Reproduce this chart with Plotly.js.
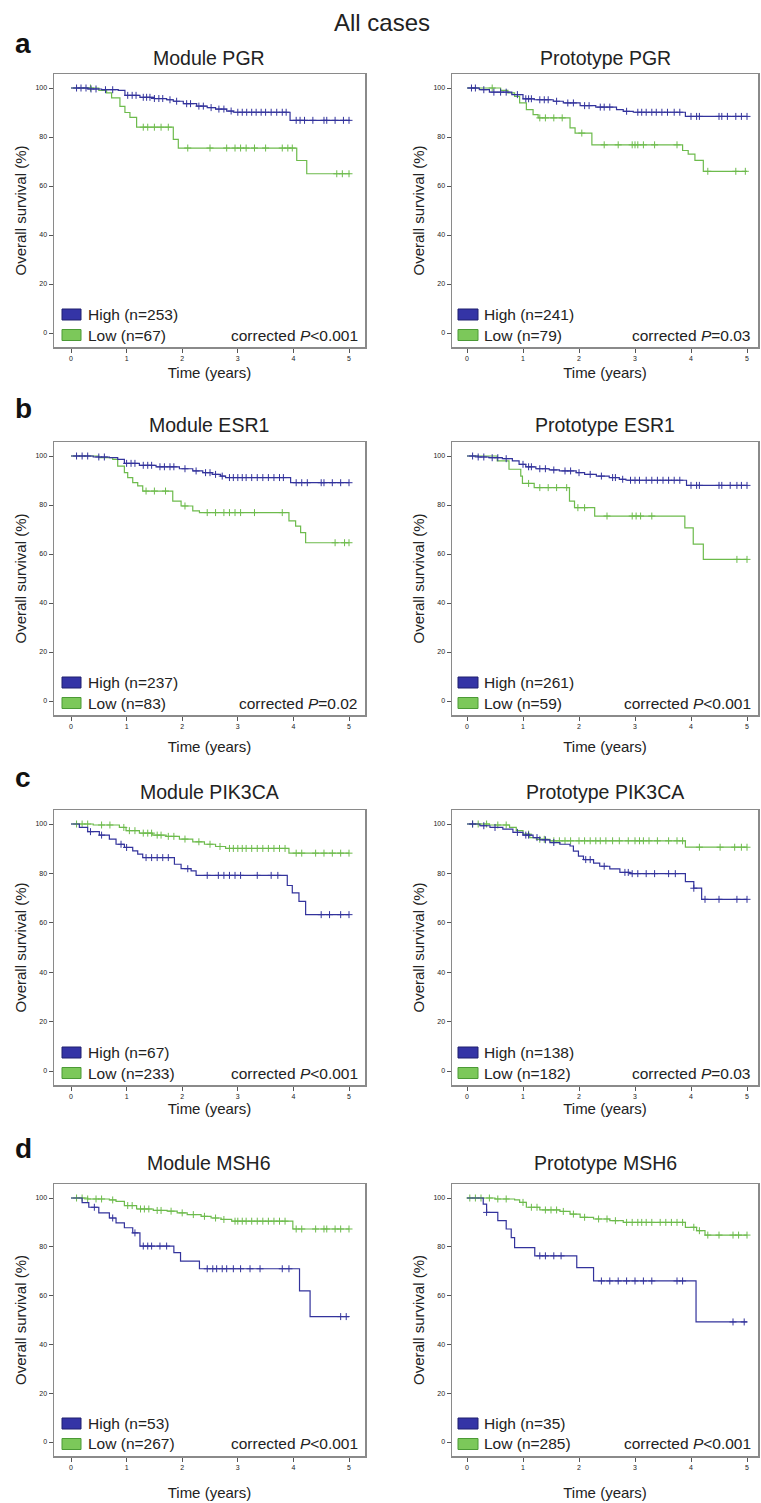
<!DOCTYPE html>
<html><head><meta charset="utf-8">
<script src="https://cdn.plot.ly/plotly-3.0.1.min.js"></script>
<style>html,body{margin:0;padding:0;background:#fff}</style>
</head><body><div id="chart" style="width:761px;height:1503px"></div>
<script>
// ---------- DATA ----------
const xTicks = [0,1,2,3,4,5];
const yTicks = [0,20,40,60,80,100];

// a) Module PGR
const pgrMHighT = [0,0.3,0.55,0.85,0.97,1.24,1.5,1.72,1.84,2.02,2.26,2.45,2.6,2.8,2.92,3.94,5.02];
const pgrMHighS = [100,99.6,99.3,99.0,97.0,96.2,95.7,95.2,94.6,93.6,92.6,92.0,91.4,90.6,90.1,86.8,86.8];
const pgrMHighC = [0.1,0.18,0.27,0.36,0.45,0.62,0.75,1.02,1.1,1.17,1.3,1.36,1.42,1.5,1.58,1.65,1.78,1.9,2.08,2.15,2.3,2.38,2.52,2.66,2.75,2.88,3.0,3.08,3.16,3.25,3.33,3.42,3.5,3.6,3.7,3.8,3.87,4.05,4.12,4.2,4.35,4.55,4.6,4.75,4.9,5.0];
const pgrMLowT = [0,0.5,0.64,0.73,0.88,0.97,1.06,1.18,1.84,1.93,4.06,4.24,5.02];
const pgrMLowS = [100,99.0,98.0,96.0,92.5,90.0,88.0,84.0,79.0,75.5,70.4,65.0,65.0];
const pgrMLowC = [0.35,1.3,1.38,1.5,1.62,1.75,2.1,2.5,2.8,2.95,3.05,3.15,3.3,3.5,3.8,3.9,3.98,4.78,4.88,5.0];
// a) Prototype PGR
const pgrPHighT = [0,0.22,0.4,0.8,1.0,1.2,1.54,1.72,2.02,2.3,2.67,2.79,2.97,3.9,5.0];
const pgrPHighS = [100,99.3,98.3,97.3,95.6,95.2,94.6,93.9,92.8,92.2,91.2,90.5,90.1,88.4,88.4];
const pgrPHighC = [0.08,0.15,0.3,0.48,0.6,0.7,0.9,1.05,1.1,1.15,1.3,1.38,1.45,1.6,1.8,1.9,2.1,2.18,2.38,2.45,2.55,2.85,3.05,3.12,3.2,3.3,3.38,3.48,3.58,3.7,3.8,4.0,4.1,4.15,4.5,4.55,4.65,4.8,4.9,5.0];
const pgrPLowT = [0,0.6,0.73,0.85,0.94,1.06,1.18,1.27,1.84,1.93,2.23,3.85,3.95,4.07,4.22,5.0];
const pgrPLowS = [100,99.0,98.0,96.6,93.9,91.2,89.1,87.8,83.7,81.6,76.8,74.5,73.0,70.5,66.0,66.0];
const pgrPLowC = [0.45,1.3,1.4,1.55,1.7,2.05,2.45,2.7,2.95,3.0,3.05,3.15,3.35,3.75,4.3,4.8,4.97];

// b) Module ESR1
const esrMHighT = [0,0.4,0.69,0.84,0.96,1.23,1.53,1.95,2.19,2.37,2.54,2.69,2.78,3.95,5.0];
const esrMHighS = [100,99.6,99.3,98.6,97.0,96.2,95.6,94.8,93.9,93.2,92.5,91.8,91.2,89.1,89.1];
const esrMHighC = [0.1,0.2,0.3,0.5,0.6,1.0,1.08,1.15,1.3,1.38,1.45,1.6,1.68,1.78,1.85,2.05,2.25,2.42,2.5,2.6,2.72,2.85,2.92,3.0,3.08,3.15,3.25,3.35,3.45,3.55,3.65,3.75,3.82,4.05,4.15,4.25,4.5,4.55,4.7,4.85,5.0];
const esrMLowT = [0,0.5,0.75,0.84,0.96,1.02,1.11,1.2,1.29,1.83,1.98,2.19,2.31,3.92,4.04,4.13,4.22,5.0];
const esrMLowS = [100,99.3,98.6,95.9,93.2,91.2,89.1,87.8,85.7,81.6,79.6,77.6,76.9,73.5,71.4,68.7,64.6,64.6];
const esrMLowC = [1.35,1.5,1.7,2.05,2.45,2.6,2.75,2.85,2.95,3.05,3.3,3.8,4.75,4.92,5.0];
// b) Prototype ESR1
const esrPHighT = [0,0.2,0.39,0.63,0.81,0.93,1.05,1.23,1.47,1.65,1.95,2.1,2.31,2.54,2.72,2.84,3.92,5.0];
const esrPHighS = [100,99.6,99.3,98.9,98.0,96.6,95.6,94.8,94.3,93.9,93.2,92.5,91.8,91.2,90.5,90.1,88.0,88.0];
const esrPHighC = [0.1,0.2,0.3,0.45,0.55,0.7,1.0,1.1,1.15,1.3,1.4,1.55,1.75,1.85,2.0,2.2,2.4,2.6,2.65,2.78,2.92,3.0,3.08,3.2,3.3,3.4,3.5,3.6,3.7,3.8,4.0,4.1,4.15,4.5,4.55,4.7,4.82,4.9,5.0];
const esrPLowT = [0,0.54,0.75,0.96,0.99,1.2,1.83,1.92,2.28,3.89,4.04,4.22,5.0];
const esrPLowS = [100,98.0,94.6,91.8,88.8,87.1,81.6,78.9,75.5,70.7,64.0,57.8,57.8];
const esrPLowC = [1.1,1.3,1.45,1.6,1.78,1.98,2.1,2.5,2.95,3.02,3.1,3.3,4.82,5.0];

// c) Module PIK3CA
const pikMHighT = [0,0.15,0.3,0.51,0.69,0.81,0.96,1.11,1.2,1.29,1.86,1.98,2.16,2.25,3.89,3.98,4.1,4.22,5.0];
const pikMHighS = [100,98.6,96.9,95.5,93.9,91.8,90.5,89.1,87.8,86.4,83.7,81.9,81.0,79.2,75.1,72.1,68.7,63.3,63.3];
const pikMHighC = [0.35,0.55,0.9,1.0,1.35,1.45,1.55,1.65,1.75,2.1,2.45,2.65,2.75,2.85,2.95,3.05,3.35,3.6,3.72,4.5,4.65,4.85,5.0];
const pikMLowT = [0,0.4,0.87,0.99,1.23,1.47,1.71,1.95,2.19,2.4,2.6,2.78,3.92,5.0];
const pikMLowS = [100,99.6,98.6,97.3,96.3,95.5,95.0,93.9,92.8,91.8,90.9,90.1,88.2,88.2];
const pikMLowC = [0.1,0.2,0.3,0.55,0.7,0.95,1.05,1.15,1.3,1.38,1.45,1.55,1.62,1.75,1.85,2.05,2.3,2.5,2.68,2.85,2.92,3.0,3.08,3.15,3.25,3.35,3.45,3.55,3.65,3.75,3.85,4.05,4.15,4.4,4.55,4.7,4.85,5.0];
// c) Prototype PIK3CA
const pikPHighT = [0,0.23,0.41,0.64,0.82,1.0,1.18,1.3,1.48,1.66,1.84,1.9,1.99,2.08,2.26,2.37,2.55,2.73,2.91,3.9,4.05,4.19,5.0];
const pikPHighS = [100,99.3,98.6,97.9,96.6,95.5,94.5,93.6,92.5,91.8,91.1,89.0,87.0,85.6,84.2,82.9,81.8,80.4,79.9,76.7,74.0,69.5,69.5];
const pikPHighC = [0.1,0.3,0.5,0.9,1.05,1.1,1.25,1.4,1.55,2.12,2.2,2.45,2.82,2.88,2.95,3.05,3.2,3.35,3.6,3.72,4.05,4.25,4.5,4.82,5.0];
const pikPLowT = [0,0.4,0.76,0.88,1.0,1.12,1.24,1.48,3.9,5.0];
const pikPLowS = [100,99.6,98.6,97.3,95.9,94.5,93.8,93.2,90.6,90.6];
const pikPLowC = [0.1,0.2,0.35,0.55,0.7,1.1,1.3,1.38,1.55,1.65,1.75,1.85,2.0,2.1,2.2,2.3,2.38,2.48,2.6,2.72,2.88,3.0,3.08,3.15,3.25,3.4,3.6,3.75,3.85,4.15,4.52,4.78,4.9,5.0];

// d) Module MSH6
const mshMHighT = [0,0.2,0.32,0.5,0.69,0.81,0.96,1.11,1.24,1.85,1.97,2.31,4.11,4.3,5.0];
const mshMHighS = [100,98.1,96.2,93.9,91.8,89.8,87.8,85.7,80.3,77.6,74.1,71.0,61.9,51.4,51.4];
const mshMHighC = [0.42,0.75,1.15,1.3,1.38,1.45,1.6,1.72,2.45,2.55,2.62,2.72,2.8,2.92,3.05,3.22,3.4,3.8,3.92,4.85,4.95];
const mshMLowT = [0,0.3,0.69,0.81,0.96,1.18,1.48,1.73,1.91,2.09,2.34,2.52,2.7,2.89,3.99,5.0];
const mshMLowS = [100,99.6,99.2,98.6,96.9,95.5,94.9,94.6,93.9,93.2,92.5,91.8,91.2,90.5,87.3,87.3];
const mshMLowC = [0.1,0.2,0.3,0.45,0.55,0.75,1.02,1.1,1.25,1.32,1.4,1.55,1.62,1.8,2.0,2.2,2.4,2.6,2.75,2.95,3.0,3.08,3.15,3.25,3.35,3.45,3.55,3.65,3.75,3.85,4.05,4.15,4.4,4.55,4.6,4.75,4.85,5.0];
// d) Prototype MSH6
const mshPHighT = [0,0.29,0.35,0.55,0.7,0.79,0.85,1.21,1.96,2.26,4.09,5.0];
const mshPHighS = [100,97.5,94.1,90.7,87.3,83.8,79.7,76.3,71.5,66.0,49.2,49.2];
const mshPHighC = [0.35,1.3,1.4,1.55,1.68,2.4,2.55,2.7,2.85,3.0,3.15,3.3,3.75,3.85,4.75,4.95];
const mshPLowT = [0,0.5,0.85,0.94,1.06,1.3,1.66,1.84,2.02,2.26,2.55,2.79,3.9,4.1,4.25,5.0];
const mshPLowS = [100,99.6,99.2,98.2,96.2,95.1,94.5,93.4,92.1,91.4,90.7,90.0,88.0,86.6,84.8,84.8];
const mshPLowC = [0.05,0.15,0.25,0.4,0.55,0.7,1.0,1.15,1.25,1.4,1.5,1.6,1.72,1.9,2.1,2.35,2.5,2.65,2.85,2.95,3.05,3.12,3.2,3.3,3.45,3.55,3.65,3.75,3.85,4.05,4.15,4.3,4.5,4.75,4.85,5.0];

const panelTitles = ["Module PGR","Prototype PGR","Module ESR1","Prototype ESR1","Module PIK3CA","Prototype PIK3CA","Module MSH6","Prototype MSH6"];
const highN = [253,241,237,261,67,138,53,35];
const lowN  = [67,79,83,59,233,182,267,285];
const pText = ["P&lt;0.001","P=0.03","P=0.02","P&lt;0.001","P&lt;0.001","P=0.03","P&lt;0.001","P&lt;0.001"];
const rowLetters = ["a","b","c","d"];

// ---------- LAYOUT GEOMETRY ----------
const W = 761, H = 1503;
const cols = [ {x0:54, x1:365, t0:71, t5:349, sw0:8, sw1:27, tx:32},
               {x0:452, x1:758, t0:467, t5:747, sw0:6, sw1:26, tx:30} ];
const rows = [ {top:74, bot:347, title:58, letter:44, xt:6},
               {top:442, bot:715, title:425, letter:408, xt:12},
               {top:810, bot:1085, title:792, letter:777, xt:2},
               {top:1184, bot:1456, title:1163, letter:1148, xt:17} ];

const curves = [
  [pgrMHighT,pgrMHighS,pgrMHighC,pgrMLowT,pgrMLowS,pgrMLowC],
  [pgrPHighT,pgrPHighS,pgrPHighC,pgrPLowT,pgrPLowS,pgrPLowC],
  [esrMHighT,esrMHighS,esrMHighC,esrMLowT,esrMLowS,esrMLowC],
  [esrPHighT,esrPHighS,esrPHighC,esrPLowT,esrPLowS,esrPLowC],
  [pikMHighT,pikMHighS,pikMHighC,pikMLowT,pikMLowS,pikMLowC],
  [pikPHighT,pikPHighS,pikPHighC,pikPLowT,pikPLowS,pikPLowC],
  [mshMHighT,mshMHighS,mshMHighC,mshMLowT,mshMLowS,mshMLowC],
  [mshPHighT,mshPHighS,mshPHighC,mshPLowT,mshPLowS,mshPLowC]
];

const BLUE = '#33339c', GREEN = '#6dbb4c';
const FONT = 'Liberation Sans, Arial, Helvetica, sans-serif';

function survAt(T,S,c){ let v=S[0]; for(let i=0;i<T.length;i++){ if(T[i]<=c) v=S[i]; } return v; }

const data = [], annotations = [], shapes = [];
const layout = { width:W, height:H, margin:{l:0,r:0,t:0,b:0}, paper_bgcolor:'#fff', plot_bgcolor:'#fff',
  showlegend:false, font:{family:FONT, color:'#222'} };

for(let p=0;p<8;p++){
  const r = rows[Math.floor(p/2)], c = cols[p%2];
  const n = p+1, xa = n===1?'x':'x'+n, ya = n===1?'y':'y'+n;
  const xk = n===1?'xaxis':'xaxis'+n, yk = n===1?'yaxis':'yaxis'+n;
  const ppy = (c.t5-c.t0)/5;
  const hpx = r.bot-r.top, ppu = (hpx-28)/100;
  layout[xk] = { domain:[c.x0/W, c.x1/W], anchor:ya, range:[-(c.t0-c.x0)/ppy, 5+(c.x1-c.t5)/ppy],
    tickvals:xTicks, ticks:'outside', ticklen:4, tickwidth:1, tickcolor:'#555',
    showline:true, mirror:true, linecolor:'#8a8a8a', linewidth:1.5, showgrid:false, zeroline:false,
    tickfont:{size:7, color:'#222', family:FONT},
    title:{text:'Time (years)', font:{size:15, color:'#222', family:FONT}, standoff:r.xt} };
  layout[yk] = { domain:[1-r.bot/H, 1-r.top/H], anchor:xa, range:[-14/ppu, 100+14/ppu],
    tickvals:yTicks, ticks:'outside', ticklen:4, tickwidth:1, tickcolor:'#555',
    showline:true, mirror:true, linecolor:'#8a8a8a', linewidth:1.5, showgrid:false, zeroline:false,
    tickfont:{size:7, color:'#222', family:FONT},
    title:{text:'Overall survival (%)', font:{size:15, color:'#222', family:FONT}, standoff:5} };

  const [hT,hS,hC,lT,lS,lC] = curves[p];
  const series = [[lT,lS,lC,GREEN],[hT,hS,hC,BLUE]];
  series.forEach(([T,S,C,col])=>{
    data.push({type:'scatter', mode:'lines', x:T, y:S, xaxis:xa, yaxis:ya, line:{shape:'hv', color:col, width:1.2}, hoverinfo:'skip'});
    data.push({type:'scatter', mode:'markers', x:C, y:C.map(v=>survAt(T,S,v)), xaxis:xa, yaxis:ya,
      marker:{symbol:'cross-thin-open', size:5, color:col, line:{color:col, width:1}}, hoverinfo:'skip'});
  });

  annotations.push({xref:'paper', yref:'paper', x:((c.x0+c.x1)/2)/W, y:1-r.title/H, xanchor:'center', yanchor:'middle',
    text:panelTitles[p], showarrow:false, font:{size:19.5, color:'#222', family:FONT}});

  const wpx = c.x1-c.x0;
  const legRows = [[32.5,'High (n='+highN[p]+')', '#3434a6', '#1e1e6e'],[12,'Low (n='+lowN[p]+')', '#7cc85a', '#4b9a35']];
  legRows.forEach(([yo,txt,fill,border])=>{
    shapes.push({type:'rect', xref:xa+' domain', yref:ya+' domain', x0:c.sw0/wpx, x1:c.sw1/wpx,
      y0:(yo-5.5)/hpx, y1:(yo+5.5)/hpx, fillcolor:fill, line:{color:border, width:1}});
    annotations.push({xref:xa+' domain', yref:ya+' domain', x:c.tx/wpx, y:yo/hpx, xanchor:'left', yanchor:'middle',
      text:txt, showarrow:false, font:{size:15.5, color:'#222', family:FONT}});
  });
  annotations.push({xref:xa+' domain', yref:ya+' domain', x:1-5/wpx, y:12/hpx, xanchor:'right', yanchor:'middle',
    text:'corrected <i>'+pText[p].replace(/^P/,'P</i>'), showarrow:false, font:{size:15.5, color:'#222', family:FONT}});
}

rows.forEach((r,i)=>{
  annotations.push({xref:'paper', yref:'paper', x:13/W, y:1-r.letter/H, xanchor:'left', yanchor:'middle',
    text:'<b>'+rowLetters[i]+'</b>', showarrow:false, font:{size:28, color:'#111', family:FONT}});
});
annotations.push({xref:'paper', yref:'paper', x:382/W, y:1-22/H, xanchor:'center', yanchor:'middle',
  text:'All cases', showarrow:false, font:{size:24, color:'#222', family:FONT}});

layout.annotations = annotations;
layout.shapes = shapes;

Plotly.newPlot('chart', data, layout, {displayModeBar:false, staticPlot:true});
</script></body></html>
